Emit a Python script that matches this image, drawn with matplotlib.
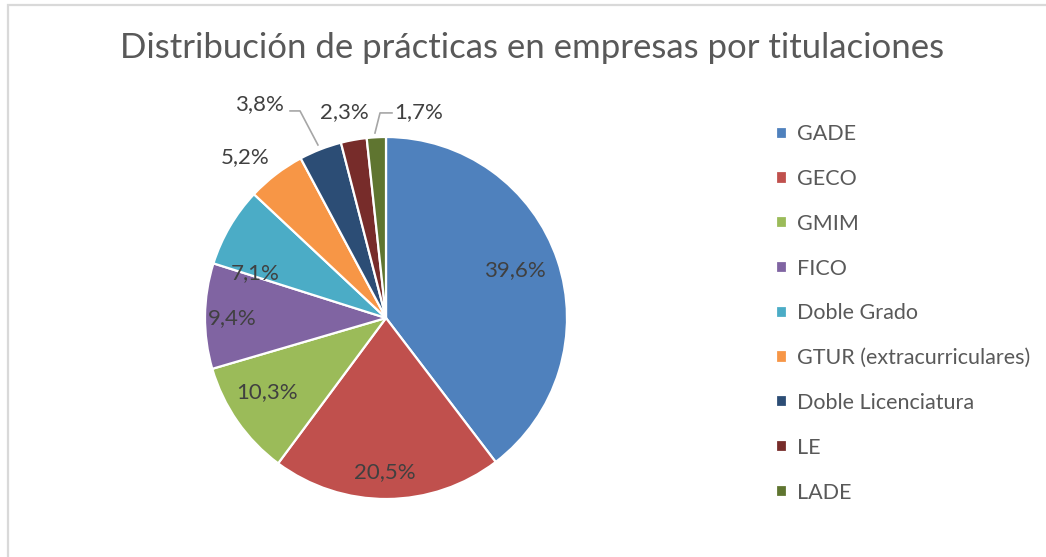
import matplotlib
matplotlib.use("Agg")
import matplotlib.pyplot as plt
from matplotlib.patches import Rectangle

categories = ["GADE", "GECO", "GMIM", "FICO", "Doble Grado",
              "GTUR (extracurriculares)", "Doble Licenciatura", "LE", "LADE"]
values = [39.6, 20.5, 10.3, 9.4, 7.1, 5.2, 3.8, 2.3, 1.7]
value_labels = ["39,6%", "20,5%", "10,3%", "9,4%", "7,1%", "5,2%", "3,8%", "2,3%", "1,7%"]
title = "Distribución de prácticas en empresas por titulaciones"

colors = ["#4F81BD", "#C0504D", "#9BBB59", "#8064A2", "#4BACC6",
          "#F79646", "#2C4D75", "#772C2A", "#5F7530"]

# label positions in pie-radius units (styling)
label_pos = [(0.71, 0.265), (-0.006, -0.85), (-0.66, -0.41), (-0.85, 0.0),
             (-0.72, 0.25), (-0.78, 0.89), (-0.70, 1.18), (-0.23, 1.14), (0.18, 1.14)]
# leader lines (styling): polyline in pie-radius units
leaders = [[(-0.530, 1.144), (-0.475, 1.144), (-0.376, 0.956)],
           [(0.033, 1.133), (-0.033, 1.133), (-0.061, 1.022)]]

plt.rcParams['font.family'] = ['Lato', 'DejaVu Sans']

W, H = 1046, 557
fig = plt.figure(figsize=(W / 100, H / 100), dpi=100)
fig.patch.set_facecolor("white")

# chart border (only top/left visible in the reference crop)
fig.add_artist(Rectangle((8 / W, -0.1), 1.2, 1 - 5 / H + 0.1, transform=fig.transFigure,
                         fill=False, edgecolor="#D9D9D9", linewidth=1.6))

cx, cy, r = 386, 557 - 318, 181
ax = fig.add_axes([(cx - r) / W, (cy - r) / H, 2 * r / W, 2 * r / H])

wedges, _ = ax.pie(values, colors=colors, startangle=90, counterclock=False,
                   radius=1.0, wedgeprops=dict(edgecolor="white", linewidth=1.6))
ax.set_xlim(-1, 1)
ax.set_ylim(-1, 1)
ax.set_axis_off()

for lab, (x, y) in zip(value_labels, label_pos):
    ax.text(x, y, lab, ha="center", va="center", fontsize=16, color="#404040")

for line in leaders:
    xs, ys = zip(*line)
    ax.plot(xs, ys, color="#A6A6A6", lw=1.2, clip_on=False)

fig.text(532 / W, 1 - 48 / H, title, ha="center", va="center", fontsize=25, color="#595959")

leg = fig.legend(wedges, categories, loc="upper left",
                 bbox_to_anchor=(770 / W, 1 - 118 / H), frameon=False,
                 fontsize=15.5, handlelength=0.5, handleheight=0.5,
                 handletextpad=0.45, labelspacing=1.15, labelcolor="#595959",
                 borderaxespad=0, borderpad=0.3)

fig.savefig("out.png", dpi=100, facecolor="white")
